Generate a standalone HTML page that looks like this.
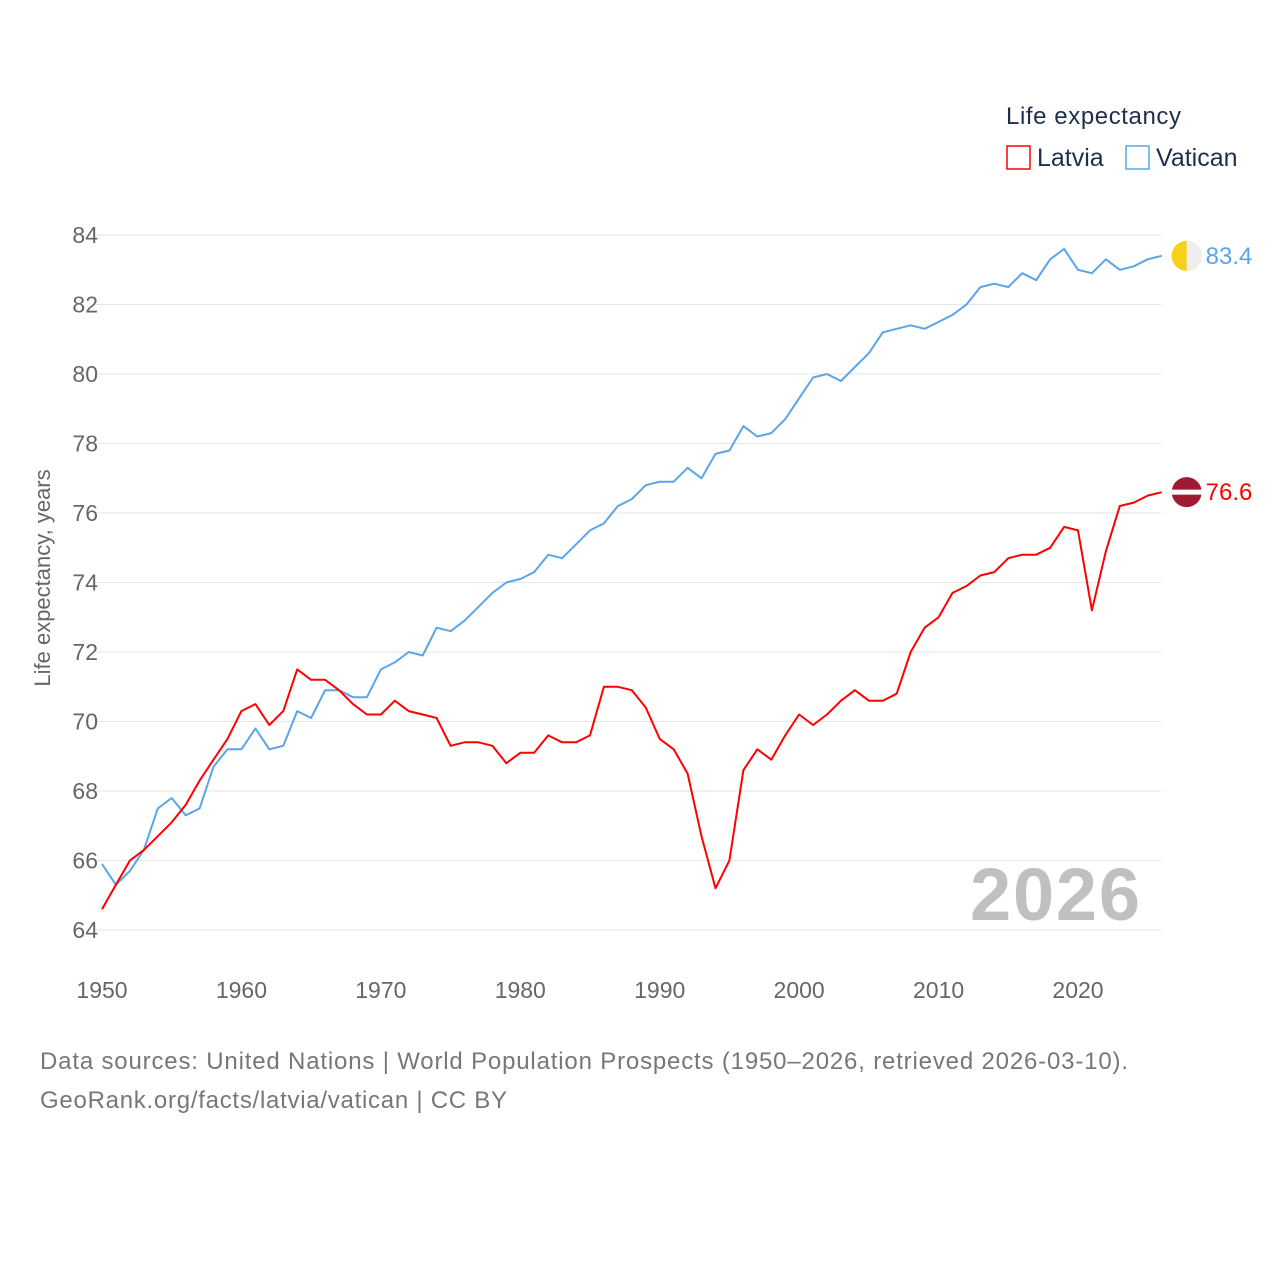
<!DOCTYPE html>
<html><head><meta charset="utf-8"><style>
body{margin:0;background:#fff;width:1280px;height:1280px;overflow:hidden;font-family:"Liberation Sans",sans-serif}
svg text{font-family:"Liberation Sans",sans-serif}
</style></head><body>
<svg id="chart" width="1280" height="1280" xmlns="http://www.w3.org/2000/svg">
<text x="1006" y="124" font-size="24" fill="#1f2f4a" textLength="175">Life expectancy</text>
<g><rect x="1007" y="146" width="23" height="23" fill="none" stroke="#ff0000" stroke-width="1.5"/><text x="1037" y="166" font-size="25" fill="#1f2f4a">Latvia</text></g>
<g><rect x="1126" y="146" width="23" height="23" fill="none" stroke="#5aa5ea" stroke-width="1.5"/><text x="1156" y="166" font-size="25" fill="#1f2f4a">Vatican</text></g>
<text transform="translate(50,578) rotate(-90)" text-anchor="middle" font-size="22" fill="#666">Life expectancy, years</text>
<text x="1140" y="920" text-anchor="end" font-size="74" font-weight="bold" fill="#c0c0c0" textLength="170">2026</text>
<g id="grid"></g><g id="xt"></g><g id="series"></g>
<text x="40" y="1069" font-size="24" fill="#777" textLength="1088">Data sources: United Nations | World Population Prospects (1950–2026, retrieved 2026-03-10).</text>
<text x="40" y="1108" font-size="24" fill="#777" textLength="467">GeoRank.org/facts/latvia/vatican | CC BY</text>
</svg>
<script>
const startYear = 1950;
const yTicks = [64,66,68,70,72,74,76,78,80,82,84];
const xTicks = [1950,1960,1970,1980,1990,2000,2010,2020];
const latvia = [64.6,65.3,66.0,66.3,66.7,67.1,67.6,68.3,68.9,69.5,70.3,70.5,69.9,70.3,71.5,71.2,71.2,70.9,70.5,70.2,70.2,70.6,70.3,70.2,70.1,69.3,69.4,69.4,69.3,68.8,69.1,69.1,69.6,69.4,69.4,69.6,71.0,71.0,70.9,70.4,69.5,69.2,68.5,66.7,65.2,66.0,68.6,69.2,68.9,69.6,70.2,69.9,70.2,70.6,70.9,70.6,70.6,70.8,72.0,72.7,73.0,73.7,73.9,74.2,74.3,74.7,74.8,74.8,75.0,75.6,75.5,73.2,74.9,76.2,76.3,76.5,76.6];
const vatican = [65.9,65.3,65.7,66.3,67.5,67.8,67.3,67.5,68.7,69.2,69.2,69.8,69.2,69.3,70.3,70.1,70.9,70.9,70.7,70.7,71.5,71.7,72.0,71.9,72.7,72.6,72.9,73.3,73.7,74.0,74.1,74.3,74.8,74.7,75.1,75.5,75.7,76.2,76.4,76.8,76.9,76.9,77.3,77.0,77.7,77.8,78.5,78.2,78.3,78.7,79.3,79.9,80.0,79.8,80.2,80.6,81.2,81.3,81.4,81.3,81.5,81.7,82.0,82.5,82.6,82.5,82.9,82.7,83.3,83.6,83.0,82.9,83.3,83.0,83.1,83.3,83.4];
const NS="http://www.w3.org/2000/svg";
const X=yr=>102+(yr-1950)*(976/70);
const Y=v=>235+(84-v)*(695/20);
function mk(tag,attrs,parent){const e=document.createElementNS(NS,tag);for(const k in attrs)e.setAttribute(k,attrs[k]);parent.appendChild(e);return e;}
const grid=document.getElementById('grid');
yTicks.forEach(v=>{
  const l=mk('line',{x1:95,x2:1161,y1:Y(v),y2:Y(v),stroke:'#e6e6e6','stroke-width':1},grid);
  
  
  const t=mk('text',{x:98,y:Y(v)+8,'text-anchor':'end','font-size':23,fill:'#666'},grid);
  t.textContent=v;
  
  
});
const xt=document.getElementById('xt');
xTicks.forEach(yr=>{
  const t=mk('text',{x:X(yr),y:998,'text-anchor':'middle','font-size':23,fill:'#666'},xt);
  t.textContent=yr;
  
  
});
const sg=document.getElementById('series');
function draw(data,color,name){
  const pts=data.map((v,i)=>X(startYear+i).toFixed(1)+','+Y(v).toFixed(1)).join(' ');
  const p=mk('polyline',{points:pts,fill:'none',stroke:color,'stroke-width':2,'stroke-linejoin':'round'},sg);
  
  
  const last=data[data.length-1], lx=X(startYear+data.length-1), ly=Y(last);
  const c=mk('circle',{cx:lx+25,cy:ly,r:15,fill:name==='latvia'?'#9e1b32':'#f7d117'},sg);
  
  
  if(name==='latvia'){
    const s=mk('rect',{x:lx+10,y:ly-2.5,width:30,height:5,fill:'#fff'},sg);
    
    
  } else {
    const h=mk('path',{d:`M${lx+25},${ly-15} A15,15 0 0 1 ${lx+25},${ly+15} Z`,fill:'#eee'},sg);
    
    
  }
  const t=mk('text',{x:lx+44,y:ly+8,'font-size':24,fill:color},sg);
  t.textContent=last.toFixed(1);
  
  
}
draw(vatican,'#5aa5ea','vatican');
draw(latvia,'#ff0000','latvia');
</script>
</body></html>
